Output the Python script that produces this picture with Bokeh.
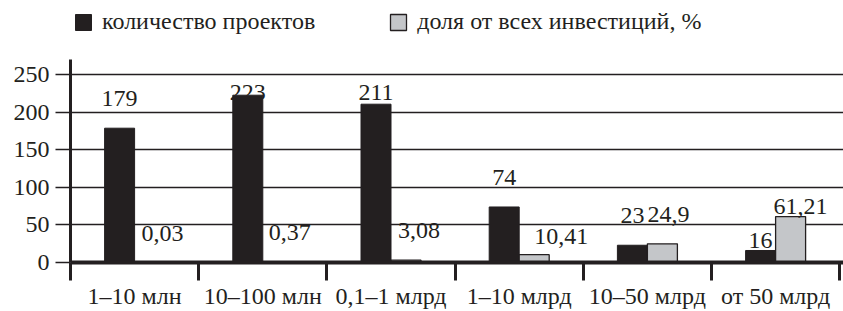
from bokeh.plotting import figure
from bokeh.models import (FixedTicker, Legend, LegendItem, ColumnDataSource, Range1d)
from bokeh.embed import file_html
from bokeh.resources import INLINE
from bokeh.core.properties import value

# ---------------- data ----------------
categories = ["1–10 млн", "10–100 млн", "0,1–1 млрд", "1–10 млрд", "10–50 млрд", "от 50 млрд"]
projects = [179, 223, 211, 74, 23, 16]
shares = [0.03, 0.37, 3.08, 10.41, 24.9, 61.21]
project_labels = ["179", "223", "211", "74", "23", "16"]
share_labels = ["0,03", "0,37", "3,08", "10,41", "24,9", "61,21"]
y_ticks = [0, 50, 100, 150, 200, 250]
series_names = ["количество проектов", "доля от всех инвестиций, %"]

# ---------------- style / layout ----------------
FONT = "Liberation Serif"
INK = "#231f20"
GRAY = "#c4c6c9"
W, H = 843, 311
LEFT, BOTTOM = 70, 47
PX_PER_UNIT = 0.756
AXIS_TOP = 270
CAT_PX = 128.2
BAR_W = 0.234
LABEL_PAD = 39          # data units above bar top
LABEL_TOP = 227         # label ceiling (data units)
LABEL_FLOOR = 26        # label floor (data units)
proj_y_nudge = [0, 0, 0, 0, 0, -26]
share_y_nudge = [0, 0, 0, -15, 0, -25]
share_x_off = [13, 12, 13, 27, 6, 10]   # px

n = len(categories)
centers = [i + 0.5 for i in range(n)]
x_black = [c - BAR_W / 2 for c in centers]
x_gray = [c + BAR_W / 2 for c in centers]
frame_w = W - LEFT
frame_h = H - BOTTOM

p = figure(width=W, height=H, output_backend="svg", toolbar_location=None,
           x_range=Range1d(0, frame_w / CAT_PX), y_range=Range1d(0, frame_h / PX_PER_UNIT),
           min_border_left=LEFT, min_border_right=0, min_border_top=0,
           min_border_bottom=BOTTOM)
p.outline_line_color = None
p.background_fill_color = "white"

r1 = p.vbar(x=x_black, top=projects, width=BAR_W, fill_color=INK, line_color=INK, line_width=1)
r2 = p.vbar(x=x_gray, top=shares, width=BAR_W, fill_color=GRAY, line_color=INK, line_width=1.3)

def lab_y(v, nudge):
    return max(min(v + LABEL_PAD, LABEL_TOP), LABEL_FLOOR) + nudge

src1 = ColumnDataSource(dict(x=x_black, y=[lab_y(v, d) for v, d in zip(projects, proj_y_nudge)],
                             t=project_labels))
src2 = ColumnDataSource(dict(x=x_gray, y=[lab_y(v, d) for v, d in zip(shares, share_y_nudge)],
                             t=share_labels, xo=share_x_off))
p.text(x="x", y="y", text="t", source=src1, text_align="center", text_baseline="middle",
       text_font=value(FONT), text_font_size="24px", text_color=INK)
p.text(x="x", y="y", text="t", source=src2, x_offset="xo", text_align="center",
       text_baseline="middle", text_font=value(FONT), text_font_size="24px", text_color=INK)

# x axis
xa = p.xaxis[0]
xa.ticker = FixedTicker(ticks=centers, minor_ticks=list(range(n + 1)))
xa.major_label_overrides = {c: cat for c, cat in zip(centers, categories)}
xa.major_tick_out = 0
xa.major_tick_in = 0
xa.minor_tick_out = 18
xa.minor_tick_in = 0
xa.minor_tick_line_width = 3
xa.minor_tick_line_color = INK
xa.axis_line_width = 4
xa.axis_line_color = INK
xa.major_label_standoff = 2
xa.major_label_text_font = FONT
xa.major_label_text_font_size = "24px"
xa.major_label_text_color = INK

# y axis
ya = p.yaxis[0]
ya.ticker = FixedTicker(ticks=y_ticks)
ya.bounds = (0, AXIS_TOP)
ya.major_tick_out = 15
ya.major_tick_in = 0
ya.major_tick_line_width = 1.5
ya.major_tick_line_color = INK
ya.minor_tick_out = 0
ya.minor_tick_in = 0
ya.axis_line_width = 3
ya.axis_line_color = INK
ya.major_label_standoff = 6
ya.major_label_text_font = FONT
ya.major_label_text_font_size = "24px"
ya.major_label_text_color = INK

p.xgrid.visible = False
p.ygrid.ticker = FixedTicker(ticks=y_ticks)
p.ygrid.grid_line_color = INK
p.ygrid.grid_line_width = 1.3

legend = Legend(items=[LegendItem(label=series_names[0], renderers=[r1]),
                       LegendItem(label=series_names[1], renderers=[r2])],
                orientation="horizontal", location=(3, frame_h - 37),
                glyph_width=20, glyph_height=20, label_standoff=9, spacing=73,
                padding=0, margin=0, border_line_color=None, background_fill_alpha=0,
                label_text_font=FONT, label_text_font_size="24px", label_text_color=INK)
p.add_layout(legend, "center")

open("out.html", "w").write(file_html(p, INLINE))
